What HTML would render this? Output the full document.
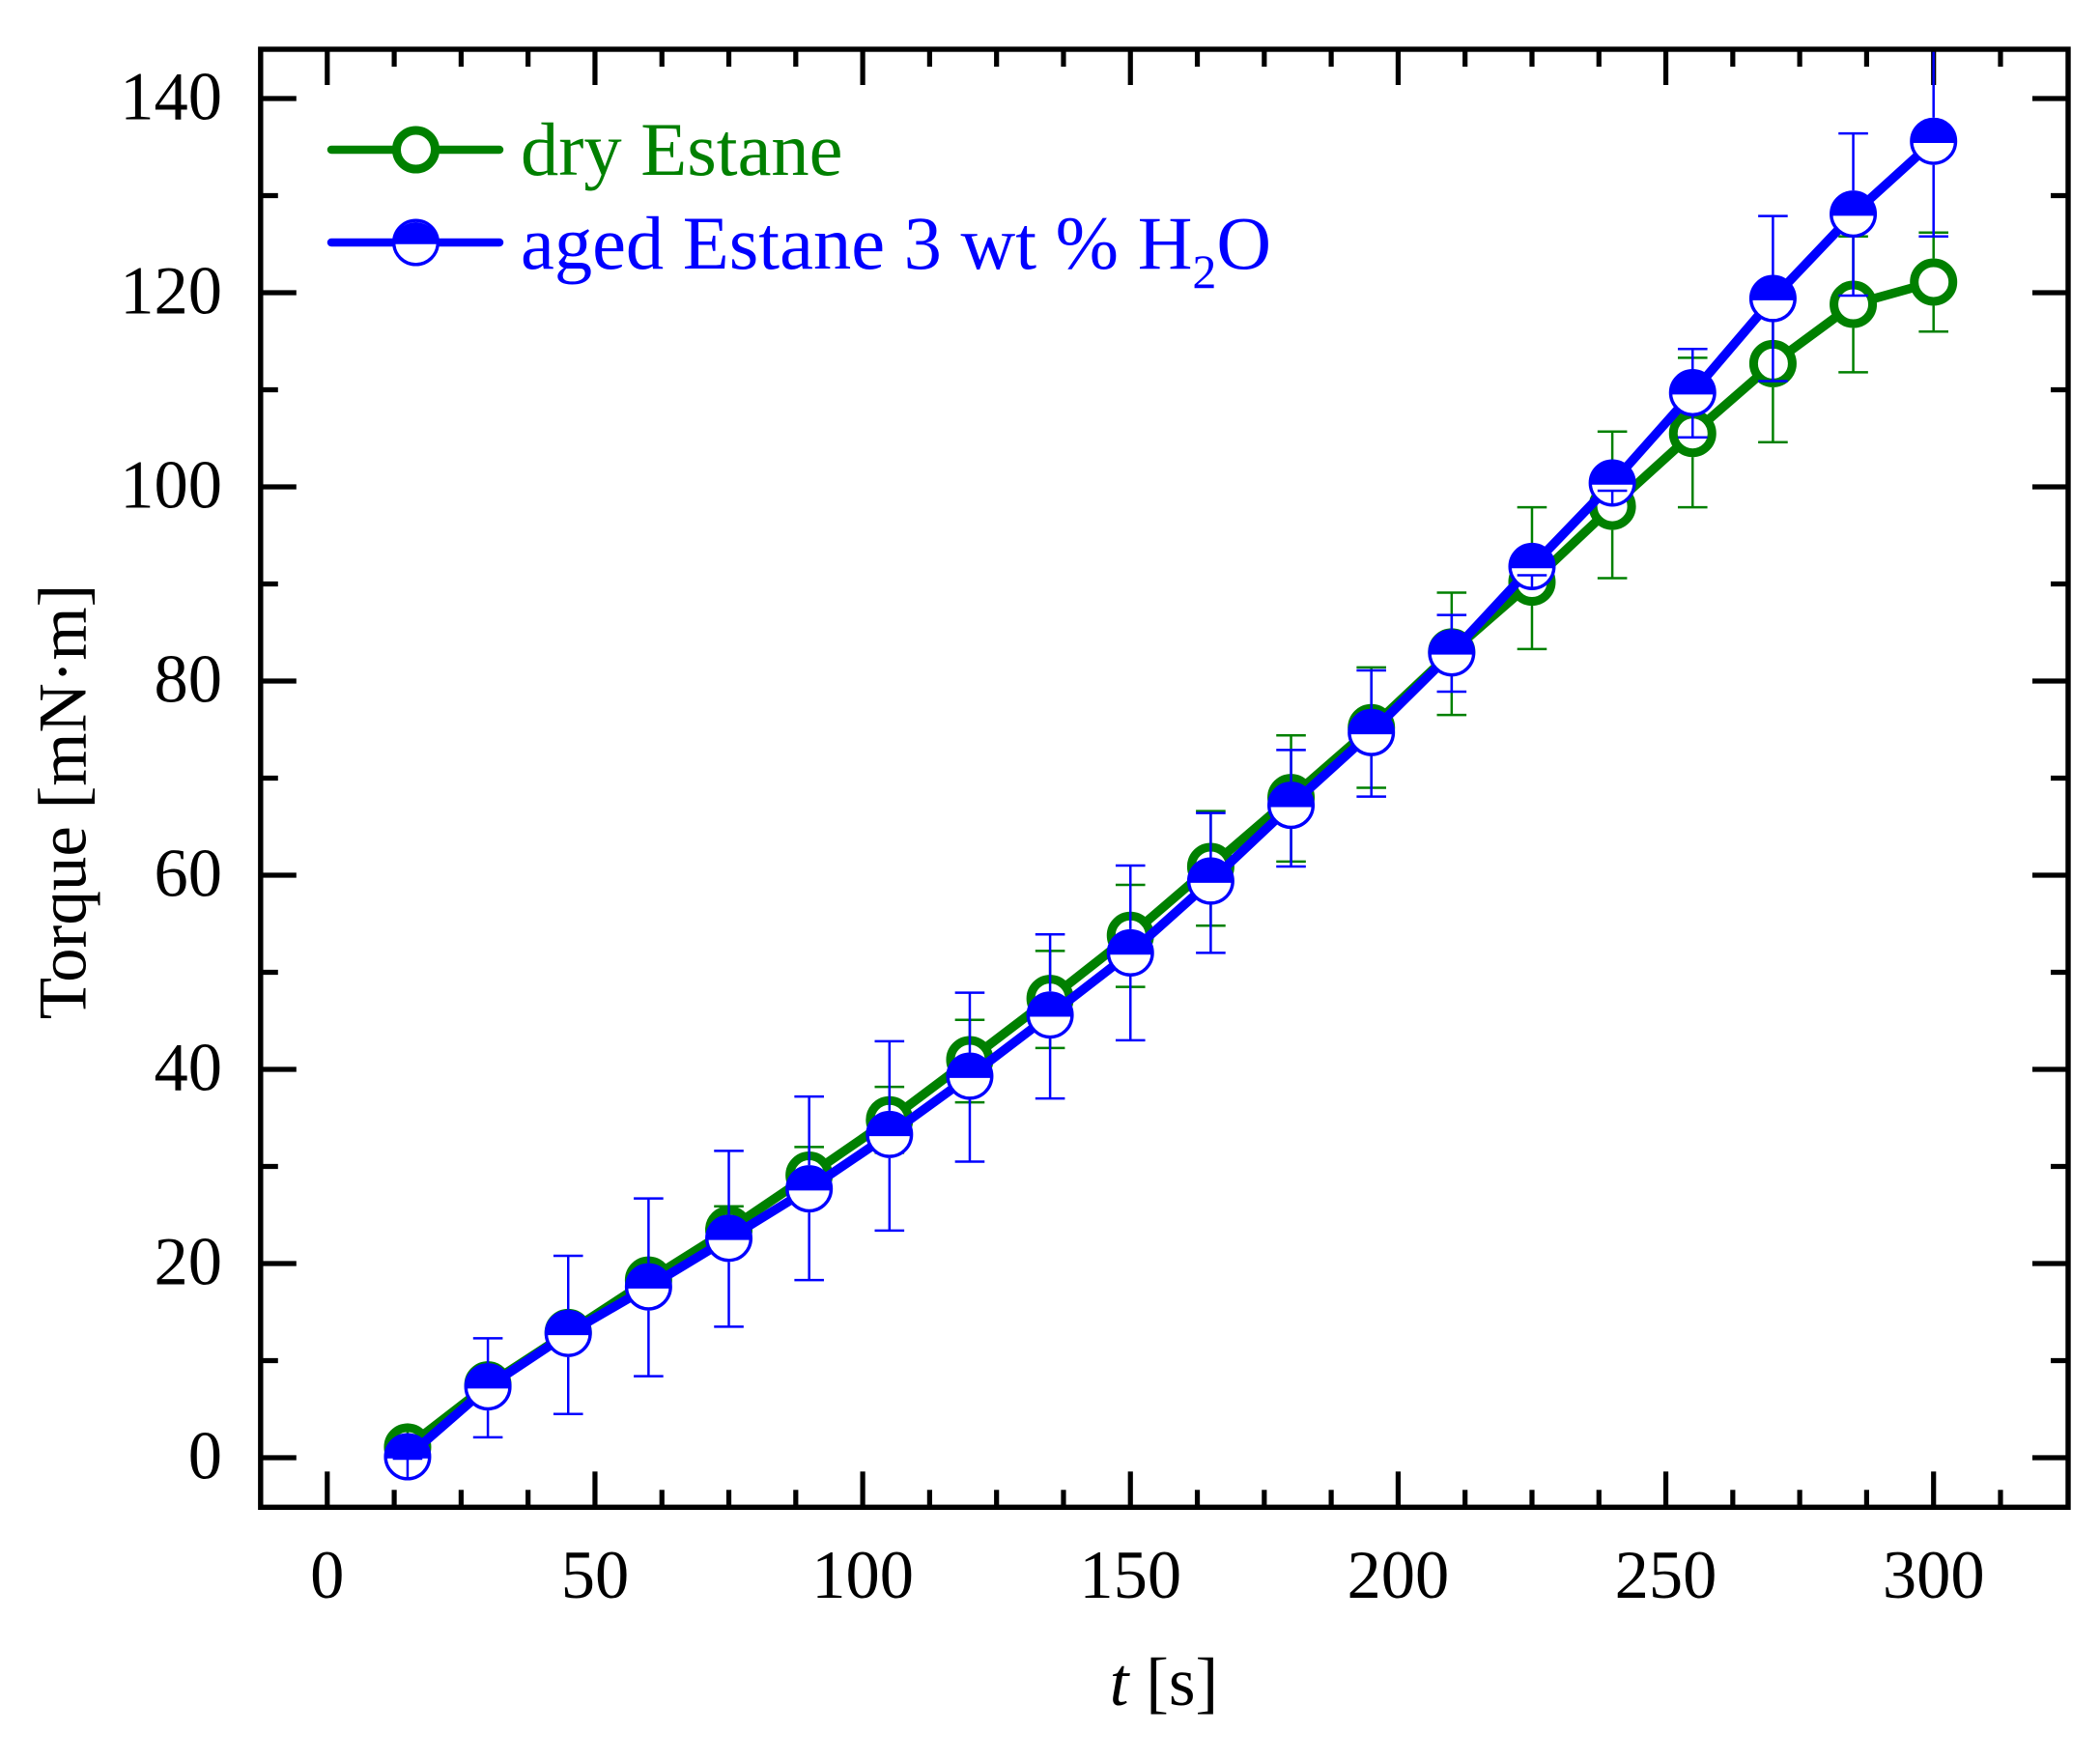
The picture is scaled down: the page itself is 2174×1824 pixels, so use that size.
<!DOCTYPE html>
<html lang="en">
<head>
<meta charset="utf-8">
<title>Torque vs time</title>
<style>
html,body{margin:0;padding:0;background:#fff;}
svg{display:block;font-family:"Liberation Serif","DejaVu Serif",serif;}
</style>
</head>
<body>
<svg id="chart" xmlns="http://www.w3.org/2000/svg" width="2174" height="1824" viewBox="0 0 2174 1824">
  <defs>
    <clipPath id="plot-clip"><rect x="272" y="53.7" width="1866" height="1504"/></clipPath>
  </defs>
  <rect x="0" y="0" width="2174" height="1824" fill="#ffffff"/>
  <g id="axes-layer"></g>
  <g id="series-layer" clip-path="url(#plot-clip)"></g>
  <text x="1205" y="1765" font-size="71" text-anchor="middle" fill="#000"><tspan font-style="italic">t</tspan> [s]</text>
  <text transform="translate(88.5,830) rotate(-90)" font-size="71" text-anchor="middle" fill="#000">Torque [mN·m]</text>
  <g>
    <g>
      <line x1="343" y1="155" x2="517" y2="155" stroke="#008000" stroke-width="8.5" stroke-linecap="round"/>
      <circle cx="430.5" cy="155" r="20" fill="#fff" stroke="#008000" stroke-width="9"/>
      <text x="539" y="181" font-size="78.5" fill="#008000">dry Estane</text>
    </g>
    <g>
      <line x1="343" y1="251" x2="517" y2="251" stroke="#0000ff" stroke-width="8.5" stroke-linecap="round"/>
      <circle cx="430.5" cy="251" r="22.8" fill="#fff" stroke="#0000ff" stroke-width="3.4"/>
      <path d="M407.7 252.8A22.8 22.8 0 0 1 453.3 252.8Z" fill="#0000ff"/>
      <text x="539" y="278" font-size="78.5" fill="#0000ff">aged Estane 3 wt % H<tspan font-size="50" dy="20">2</tspan><tspan dy="-20">O</tspan></text>
    </g>
  </g>
</svg>
<script>
var times = [15,30,45,60,75,90,105,120,135,150,165,180,195,210,225,240,255,270,285,300];
var dryTorque = [1.1,7.5,12.9,18.3,23.5,29.1,34.8,41,47.3,53.8,60.9,68,75.2,83,90.2,98,105.5,112.7,118.8,121.1];
var agedTorque = [0.1,7.3,12.8,17.6,22.6,27.7,33.3,39.3,45.6,52,59.4,67.2,74.7,82.9,91.8,100.4,109.7,119.4,128.1,135.6];
var dryUpper = [1.6,8.7,14.1,20.1,25.9,32,38.2,45.1,52.2,59,66.6,74.4,81.4,89.1,97.9,105.7,113.3,120.8,125.8,126.2];
var dryLower = [0.6,6.3,11.7,16.5,21.2,26,31.4,36.6,42.2,48.5,54.8,61.4,69,76.5,83.3,90.6,97.9,104.6,111.8,116];
var agedUpper = [0.2,12.3,20.8,26.7,31.6,37.2,42.9,47.9,53.9,61,66.4,72.9,81.1,86.8,92.7,101.2,114.2,127.9,136.4,146];
var agedLower = [-0.1,2.1,4.5,8.4,13.5,18.3,23.4,30.5,37,43,52,60.9,68.1,78.9,90.9,99.6,105.1,110.9,119.7,125.8];
var xMajorTicks = [0,50,100,150,200,250,300];
var xMinorTicks = [12.5,25,37.5,62.5,75,87.5,112.5,125,137.5,162.5,175,187.5,212.5,225,237.5,262.5,275,287.5,312.5];
var yMajorTicks = [0,20,40,60,80,100,120,140];
var yMinorTicks = [10,30,50,70,90,110,130];

var NS = 'http://www.w3.org/2000/svg';
var frame = {left:269.8, right:2141, top:51, bottom:1560.3};
function xScale(t){ return 338.8 + 5.543 * t; }
function yScale(v){ return 1509 - 10.05 * v; }
function make(tag, parent, attrs){
  var el = document.createElementNS(NS, tag);
  for (var k in attrs) el.setAttribute(k, attrs[k]);
  parent.appendChild(el);
  return el;
}

var axes = document.getElementById('axes-layer');
var series = document.getElementById('series-layer');
var el;

function drawTick(x1, y1, x2, y2, name){
  var tick = make('line', axes, {x1:x1, y1:y1, x2:x2, y2:y2, stroke:'#000', 'stroke-width':5.2});
  
  
}
xMajorTicks.forEach(function(t){
  var x = xScale(t);
  drawTick(x, frame.bottom, x, frame.bottom - 37, 'x-major-tick-bottom');
  drawTick(x, frame.top, x, frame.top + 37, 'x-major-tick-top');
  var label = make('text', axes, {x:x, y:1654, 'font-size':70.5, 'text-anchor':'middle', fill:'#000'});
  
  
  label.textContent = t;
});
xMinorTicks.forEach(function(t){
  var x = xScale(t);
  drawTick(x, frame.bottom, x, frame.bottom - 18, 'x-minor-tick-bottom');
  drawTick(x, frame.top, x, frame.top + 18, 'x-minor-tick-top');
});
yMajorTicks.forEach(function(v){
  var y = yScale(v);
  drawTick(frame.left, y, frame.left + 37, y, 'y-major-tick-left');
  drawTick(frame.right, y, frame.right - 37, y, 'y-major-tick-right');
  var label = make('text', axes, {x:230, y:y + 21.5, 'font-size':70.5, 'text-anchor':'end', fill:'#000'});
  
  
  label.textContent = v;
});
yMinorTicks.forEach(function(v){
  var y = yScale(v);
  drawTick(frame.left, y, frame.left + 18, y, 'y-minor-tick-left');
  drawTick(frame.right, y, frame.right - 18, y, 'y-minor-tick-right');
});
el = make('rect', axes, {x:frame.left, y:frame.top, width:frame.right - frame.left, height:frame.bottom - frame.top, fill:'none', stroke:'#000', 'stroke-width':5.4});



var R = 24.5;
function drawLine(values, color, name){
  var pts = times.map(function(t, i){ return xScale(t).toFixed(2) + ',' + yScale(values[i]).toFixed(2); }).join(' ');
  var line = make('polyline', series, {points:pts, fill:'none', stroke:color, 'stroke-width':9.5, 'stroke-linejoin':'round'});
  
  
}
function drawError(i, values, upper, lower, color, name){
  var x = xScale(times[i]);
  var cy = yScale(values[i]);
  var yTop = yScale(upper[i]);
  var yBot = yScale(lower[i]);
  var top = make('line', series, {x1:x, y1:cy - R, x2:x, y2:yTop, stroke:color, 'stroke-width':2.5});
  
  
  var bot = make('line', series, {x1:x, y1:cy + R, x2:x, y2:yBot, stroke:color, 'stroke-width':2.5});
  
  
  var capTop = make('line', series, {x1:x - 15.3, y1:yTop, x2:x + 15.3, y2:yTop, stroke:color, 'stroke-width':2.5});
  
  
  var capBot = make('line', series, {x1:x - 15.3, y1:yBot, x2:x + 15.3, y2:yBot, stroke:color, 'stroke-width':2.5});
  
  
}

drawLine(dryTorque, '#008000', 'dry-estane-line');
times.forEach(function(t, i){
  var m = make('circle', series, {cx:xScale(t), cy:yScale(dryTorque[i]), r:20, fill:'#fff', stroke:'#008000', 'stroke-width':9});
  
  
  drawError(i, dryTorque, dryUpper, dryLower, '#008000', 'dry-estane-error');
});

drawLine(agedTorque, '#0000ff', 'aged-estane-line');
times.forEach(function(t, i){
  var x = xScale(t), y = yScale(agedTorque[i]);
  var m = make('circle', series, {cx:x, cy:y, r:22.8, fill:'#fff', stroke:'#0000ff', 'stroke-width':3.4});
  
  
  var h = make('path', series, {d:'M' + (x - 22.8) + ' ' + y + 'A22.8 22.8 0 0 1 ' + (x + 22.8) + ' ' + y + 'L' + (x + 22.8) + ' ' + (y + 1.8) + 'L' + (x - 22.8) + ' ' + (y + 1.8) + 'Z', fill:'#0000ff'});
  
  
  drawError(i, agedTorque, agedUpper, agedLower, '#0000ff', 'aged-estane-error');
});
</script>
</body>
</html>
